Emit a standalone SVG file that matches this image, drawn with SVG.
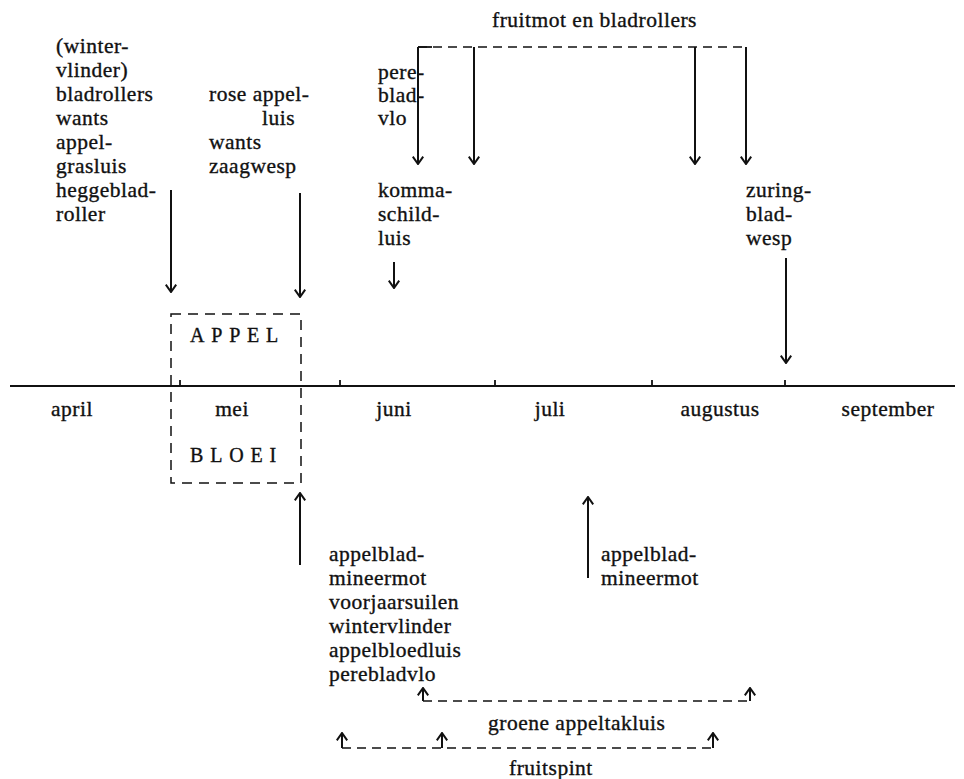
<svg xmlns="http://www.w3.org/2000/svg" width="964" height="779" viewBox="0 0 964 779">
  <style>
    text { font-family: "Liberation Serif", "Times New Roman", serif; font-size: 21.5px; letter-spacing: 0.5px; fill: #111; stroke: #111; stroke-width: 0.35; }
    .caps { font-size: 20px; letter-spacing: 6.8px; }
    .mid { text-anchor: middle; }
    .ln { stroke: #111; stroke-width: 1.8; fill: none; }
    .dash { stroke: #111; stroke-width: 1.5; fill: none; stroke-dasharray: 9 6; }
    .arrow { stroke: #111; stroke-width: 2; fill: none; marker-end: url(#head); }
  </style>
  <defs>
    <marker id="head" viewBox="0 0 9 12" refX="8" refY="6" markerWidth="9" markerHeight="12" markerUnits="userSpaceOnUse" orient="auto">
      <path d="M0.6,0.8 L8,6 L0.6,11.2" fill="none" stroke="#111" stroke-width="2"/>
    </marker>
  </defs>

  <rect width="964" height="779" fill="#fff"/>

  <!-- time axis with month ticks -->
  <g id="axis">
    <line class="ln" x1="10" y1="386" x2="955" y2="386"/>
    <path class="ln" d="M180,380V386 M340,380V386 M495,380V386 M652,380V386 M785,380V386"/>
    <text class="mid" x="72" y="416">april</text>
    <text class="mid" x="232" y="416">mei</text>
    <text class="mid" x="394" y="416">juni</text>
    <text class="mid" x="550" y="416">juli</text>
    <text class="mid" x="720" y="416">augustus</text>
    <text class="mid" x="888" y="416">september</text>
  </g>

  <!-- blossom period box -->
  <g id="appelbloei">
    <rect x="171" y="314" width="130" height="169" fill="none" stroke="#111" stroke-width="1.5" stroke-dasharray="10 7"/>
    <text class="caps" x="190" y="342">APPEL</text>
    <text class="caps" x="190" y="462">BLOEI</text>
  </g>

  <g id="voor-bloei">
    <text x="56" y="53">(winter-</text>
    <text x="56" y="77">vlinder)</text>
    <text x="56" y="101">bladrollers</text>
    <text x="56" y="125">wants</text>
    <text x="56" y="149">appel-</text>
    <text x="56" y="173">grasluis</text>
    <text x="56" y="197">heggeblad-</text>
    <text x="56" y="221">roller</text>
  </g>

  <g id="rose-appelluis">
    <text x="209" y="101">rose appel-</text>
    <text x="262" y="125">luis</text>
    <text x="209" y="149">wants</text>
    <text x="209" y="173">zaagwesp</text>
  </g>

  <g id="fruitmot">
    <text x="492" y="27">fruitmot en bladrollers</text>
  </g>

  <g id="perebladvlo-zomer">
    <text x="378" y="79">pere-</text>
    <text x="378" y="102">blad-</text>
    <text x="378" y="125">vlo</text>
  </g>

  <g id="kommaschildluis">
    <text x="378" y="197">komma-</text>
    <text x="378" y="221">schild-</text>
    <text x="378" y="245">luis</text>
  </g>

  <g id="zuringbladwesp">
    <text x="746" y="197">zuring-</text>
    <text x="746" y="221">blad-</text>
    <text x="746" y="245">wesp</text>
  </g>

  <g id="na-bloei">
    <text x="329" y="561">appelblad-</text>
    <text x="329" y="585">mineermot</text>
    <text x="329" y="609">voorjaarsuilen</text>
    <text x="329" y="633">wintervlinder</text>
    <text x="329" y="657">appelbloedluis</text>
    <text x="329" y="681">perebladvlo</text>
  </g>

  <g id="mineermot-zomer">
    <text x="601" y="561">appelblad-</text>
    <text x="601" y="585">mineermot</text>
  </g>

  <g id="groene-appeltakluis">
    <text x="488" y="730">groene appeltakluis</text>
  </g>

  <g id="fruitspint">
    <text x="509" y="775">fruitspint</text>
  </g>

  <!-- connectors -->
  <g id="connectors">
    <!-- spring arrows onto the blossom box -->
    <line class="arrow" x1="171" y1="190" x2="171" y2="292"/>
    <line class="arrow" x1="300" y1="193" x2="300" y2="297"/>
    <!-- fruit moth / leaf roller bracket -->
    <line class="dash" x1="418" y1="47" x2="746" y2="47"/>
    <line class="ln" x1="418" y1="47" x2="432" y2="47"/>
    <line class="arrow" x1="418" y1="47" x2="418" y2="164"/>
    <line class="arrow" x1="474" y1="47" x2="474" y2="164"/>
    <line class="arrow" x1="695" y1="47" x2="695" y2="164"/>
    <line class="arrow" x1="746" y1="47" x2="746" y2="164"/>
    <!-- comma scale, sawfly -->
    <line class="arrow" x1="394" y1="262" x2="394" y2="288"/>
    <line class="arrow" x1="786" y1="258" x2="786" y2="363"/>
    <!-- post-blossom arrows -->
    <line class="arrow" x1="300" y1="565" x2="300" y2="493"/>
    <line class="arrow" x1="588" y1="578" x2="588" y2="497"/>
    <!-- green apple aphid -->
    <line class="dash" x1="423" y1="701" x2="750" y2="701"/>
    <line class="arrow" x1="423" y1="701" x2="423" y2="688"/>
    <line class="arrow" x1="750" y1="701" x2="750" y2="688"/>
    <!-- fruit tree red spider mite -->
    <line class="dash" x1="342" y1="748" x2="713" y2="748"/>
    <line class="arrow" x1="342" y1="748" x2="342" y2="733"/>
    <line class="arrow" x1="442" y1="748" x2="442" y2="733"/>
    <line class="arrow" x1="713" y1="748" x2="713" y2="733"/>
  </g>
</svg>
